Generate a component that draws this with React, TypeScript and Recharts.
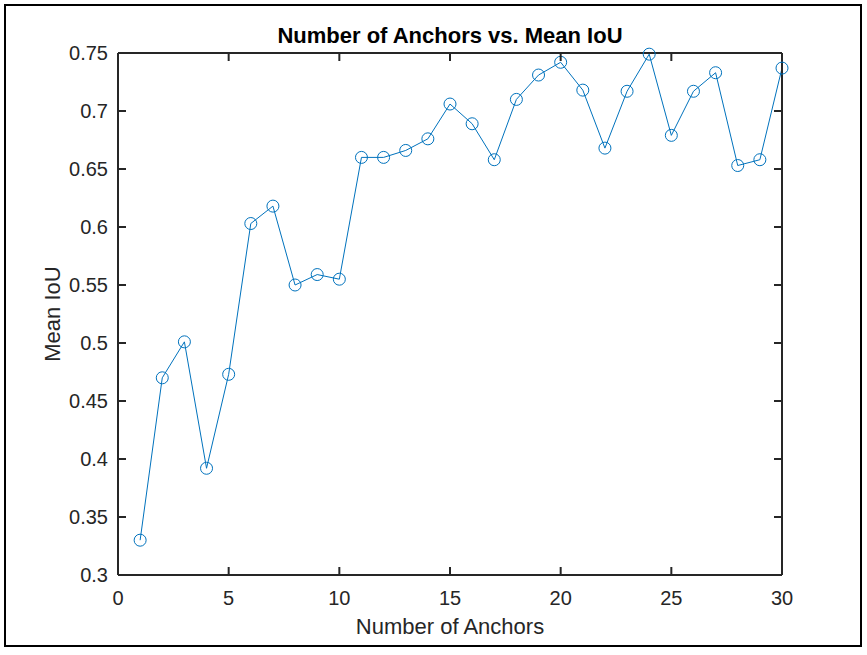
import { Line, LineChart, XAxis, YAxis } from "recharts";

const anchorCounts = [
  1, 2, 3, 4, 5, 6, 7, 8, 9, 10, 11, 12, 13, 14, 15,
  16, 17, 18, 19, 20, 21, 22, 23, 24, 25, 26, 27, 28, 29, 30,
];
const meanIoU = [
  0.33, 0.47, 0.501, 0.392, 0.473, 0.603, 0.618, 0.55, 0.559, 0.555,
  0.66, 0.66, 0.666, 0.676, 0.706, 0.689, 0.658, 0.71, 0.731, 0.742,
  0.718, 0.668, 0.717, 0.749, 0.679, 0.717, 0.733, 0.653, 0.658, 0.737,
];
const xTicks = [0, 5, 10, 15, 20, 25, 30];
const yTicks = [0.3, 0.35, 0.4, 0.45, 0.5, 0.55, 0.6, 0.65, 0.7, 0.75];

const AXIS = "#262626";
const BLUE = "#0072BD";
const FONT = "'Liberation Sans', Arial, sans-serif";
const TICK_LEN = 8;
const AXIS_W = 2;

const data = anchorCounts.map((n, i) => ({ n, iou: meanIoU[i] }));

// MATLAB-style ticks: marks point inward, labels outside
function BottomTick({ x, y, payload }: any) {
  return (
    <g>
      <line x1={x} y1={y} x2={x} y2={y - TICK_LEN} stroke={AXIS} strokeWidth={AXIS_W} />
      <text x={x} y={y + 30} textAnchor="middle" fill={AXIS} fontSize={20} fontFamily={FONT}>
        {payload.value}
      </text>
    </g>
  );
}

function TopTick({ x, y }: any) {
  return <line x1={x} y1={y} x2={x} y2={y + TICK_LEN} stroke={AXIS} strokeWidth={AXIS_W} />;
}

function LeftTick({ x, y, payload }: any) {
  return (
    <g>
      <line x1={x} y1={y} x2={x + TICK_LEN} y2={y} stroke={AXIS} strokeWidth={AXIS_W} />
      <text x={x - 10} y={y} dy="0.36em" textAnchor="end" fill={AXIS} fontSize={20} fontFamily={FONT}>
        {String(payload.value)}
      </text>
    </g>
  );
}

function RightTick({ x, y }: any) {
  return <line x1={x} y1={y} x2={x - TICK_LEN} y2={y} stroke={AXIS} strokeWidth={AXIS_W} />;
}

const labelStyle = {
  position: "absolute" as const,
  textAlign: "center" as const,
  fontFamily: FONT,
  lineHeight: "22px",
  whiteSpace: "nowrap" as const,
};

export default function App() {
  return (
    <div style={{ position: "absolute", left: 0, top: 0, width: 867, height: 655, background: "#fff" }}>
      <div
        style={{
          position: "absolute",
          left: 4,
          top: 4,
          width: 854,
          height: 639,
          border: "2px solid #000",
        }}
      />
      <div
        style={{ ...labelStyle, left: 118, width: 664, top: 25, fontWeight: "bold", fontSize: 22, color: "#000" }}
      >
        Number of Anchors vs. Mean IoU
      </div>
      <div style={{ ...labelStyle, left: 118, width: 664, top: 616, fontSize: 22, color: AXIS }}>
        Number of Anchors
      </div>
      <div
        style={{
          ...labelStyle,
          left: 53 - 100,
          top: 314 - 11,
          width: 200,
          fontSize: 22,
          color: AXIS,
          transform: "rotate(-90deg)",
        }}
      >
        Mean IoU
      </div>
      <div style={{ position: "absolute", left: 0, top: 0 }}>
        <LineChart
          width={867}
          height={655}
          data={data}
          margin={{ top: 52, right: 84, bottom: 50, left: 58 }}
        >
          <XAxis
            dataKey="n"
            type="number"
            domain={[0, 30]}
            ticks={xTicks}
            height={30}
            tickSize={0}
            tickMargin={0}
            tickLine={false}
            axisLine={{ stroke: AXIS, strokeWidth: AXIS_W }}
            tick={<BottomTick />}
          />
          <XAxis
            xAxisId="top"
            dataKey="n"
            orientation="top"
            type="number"
            domain={[0, 30]}
            ticks={xTicks}
            height={1}
            tickSize={0}
            tickMargin={0}
            tickLine={false}
            axisLine={{ stroke: AXIS, strokeWidth: AXIS_W }}
            tick={<TopTick />}
          />
          <YAxis
            type="number"
            domain={[0.3, 0.75]}
            ticks={yTicks}
            width={60}
            tickSize={0}
            tickMargin={0}
            tickLine={false}
            axisLine={{ stroke: AXIS, strokeWidth: AXIS_W }}
            tick={<LeftTick />}
          />
          <YAxis
            yAxisId="right"
            orientation="right"
            type="number"
            domain={[0.3, 0.75]}
            ticks={yTicks}
            width={1}
            tickSize={0}
            tickMargin={0}
            tickLine={false}
            axisLine={{ stroke: AXIS, strokeWidth: AXIS_W }}
            tick={<RightTick />}
          />
          {/* invisible series so the top/right box axes get drawn */}
          <Line
            xAxisId="top"
            yAxisId="right"
            dataKey="iou"
            stroke="none"
            dot={false}
            activeDot={false}
            isAnimationActive={false}
          />
          <Line
            dataKey="iou"
            stroke={BLUE}
            strokeWidth={1}
            dot={{ r: 6, stroke: BLUE, strokeWidth: 1, fill: "none" }}
            isAnimationActive={false}
          />
        </LineChart>
      </div>
    </div>
  );
}
